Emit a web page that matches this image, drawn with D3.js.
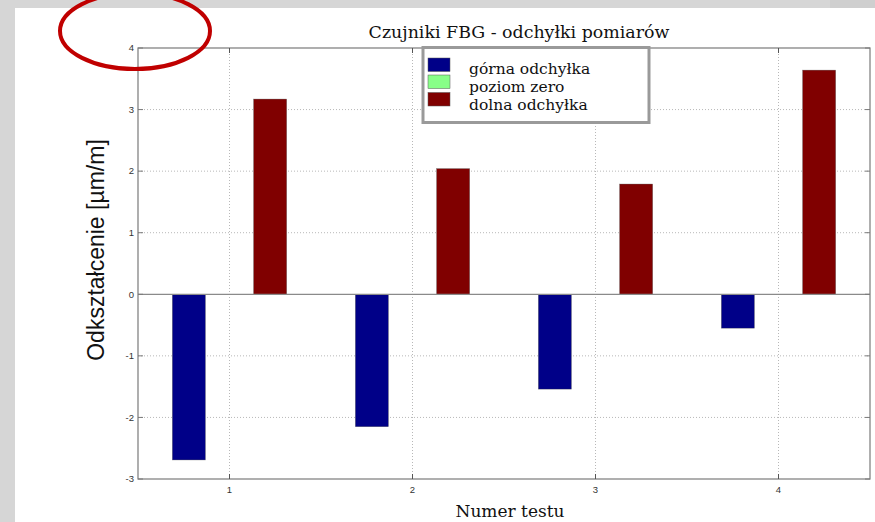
<!DOCTYPE html>
<html><head><meta charset="utf-8">
<script src="https://cdn.jsdelivr.net/npm/d3@7"></script>
<style>body{margin:0;padding:0;background:#fff}svg{display:block}</style>
</head><body>
<script>
const categories = [1, 2, 3, 4];
const seriesNames = ["górna odchyłka", "poziom zero", "dolna odchyłka"];
const seriesColors = ["#000088", "#88ff88", "#800000"];
const gornaValues = [-2.69, -2.15, -1.54, -0.55];
const zeroValues = [0, 0, 0, 0];
const dolnaValues = [3.17, 2.04, 1.79, 3.64];
const yTicks = [-3, -2, -1, 0, 1, 2, 3, 4];
const xTicks = [1, 2, 3, 4];
const titleText = "Czujniki FBG - odchyłki pomiarów";
const xLabel = "Numer testu";
const yLabel = "Odkształcenie [µm/m]";

const W = 875, H = 522;
const serif = "DejaVu Serif, Cambria, serif";
const sans = "Liberation Sans, Arial, sans-serif";
const svg = d3.select("body").append("svg").attr("width", W).attr("height", H);

// background panels
svg.append("rect").attr("width", W).attr("height", H).attr("fill", "#ffffff");
svg.append("rect").attr("x", 0).attr("y", 0).attr("width", W).attr("height", 8).attr("fill", "#d6d6d6");
svg.append("rect").attr("x", 830).attr("y", 0).attr("width", 45).attr("height", 8).attr("fill", "#cfcfcf");
svg.append("rect").attr("x", 0).attr("y", 0).attr("width", 15).attr("height", H).attr("fill", "#d6d6d6");

const m = {l: 138, t: 48, r: 870, b: 479};
const x = d3.scaleLinear().domain([0.5, 4.5]).range([m.l, m.r]);
const y = d3.scaleLinear().domain([-3, 4]).range([m.b, m.t]);

const g = svg.append("g");

// grid
g.selectAll(".gy").data(yTicks.filter(d => d !== -3 && d !== 4 && d !== 0)).join("line")
  .attr("x1", m.l).attr("x2", m.r).attr("y1", d => y(d)).attr("y2", d => y(d))
  .attr("stroke", "#b8b8b8").attr("stroke-width", 1).attr("stroke-dasharray", "1,2");
g.selectAll(".gx").data(xTicks).join("line")
  .attr("x1", d => x(d)).attr("x2", d => x(d)).attr("y1", m.t).attr("y2", m.b)
  .attr("stroke", "#b8b8b8").attr("stroke-width", 1).attr("stroke-dasharray", "1,2");

// bars
const series = [gornaValues, zeroValues, dolnaValues];
const offsets = [-0.222, 0, 0.222];
const bw = 0.18;
series.forEach((vals, si) => {
  g.selectAll(".bar" + si).data(vals.map((v, i) => ({c: categories[i], v}))).join("rect")
    .attr("x", d => x(d.c + offsets[si] - bw / 2))
    .attr("width", d => x(d.c + offsets[si] + bw / 2) - x(d.c + offsets[si] - bw / 2))
    .attr("y", d => y(Math.max(0, d.v)))
    .attr("height", d => Math.abs(y(d.v) - y(0)))
    .attr("fill", seriesColors[si])
    .attr("stroke", "#333").attr("stroke-opacity", 0.5).attr("stroke-width", 0.6);
});

// zero line
g.append("line").attr("x1", m.l).attr("x2", m.r).attr("y1", y(0)).attr("y2", y(0))
  .attr("stroke", "#8a8a8a").attr("stroke-width", 1.2);

// frame
g.append("rect").attr("x", m.l).attr("y", m.t).attr("width", m.r - m.l).attr("height", m.b - m.t)
  .attr("fill", "none").attr("stroke", "#7a7a7a").attr("stroke-width", 1.2);

// ticks inward
g.selectAll(".tl").data(yTicks).join("line")
  .attr("x1", m.l).attr("x2", m.l + 5).attr("y1", d => y(d)).attr("y2", d => y(d))
  .attr("stroke", "#7a7a7a");
g.selectAll(".tr").data(yTicks).join("line")
  .attr("x1", m.r - 5).attr("x2", m.r).attr("y1", d => y(d)).attr("y2", d => y(d))
  .attr("stroke", "#7a7a7a");
g.selectAll(".tb").data(xTicks).join("line")
  .attr("x1", d => x(d)).attr("x2", d => x(d)).attr("y1", m.b - 5).attr("y2", m.b)
  .attr("stroke", "#555");
g.selectAll(".tt").data(xTicks).join("line")
  .attr("x1", d => x(d)).attr("x2", d => x(d)).attr("y1", m.t).attr("y2", m.t + 5)
  .attr("stroke", "#555");

// tick labels
g.selectAll(".yl").data(yTicks).join("text")
  .attr("x", m.l - 4).attr("y", d => y(d)).attr("dy", "0.35em")
  .attr("text-anchor", "end").attr("font-family", sans)
  .attr("font-size", 9.5).attr("fill", "#333").text(d => d);
g.selectAll(".xl").data(xTicks).join("text")
  .attr("x", d => x(d)).attr("y", m.b + 14)
  .attr("text-anchor", "middle").attr("font-family", sans)
  .attr("font-size", 9.5).attr("fill", "#333").text(d => d);

// title & labels
svg.append("text").attr("x", 519).attr("y", 38).attr("text-anchor", "middle")
  .attr("font-family", serif).attr("font-size", 17.4)
  .attr("fill", "#111").text(titleText);
svg.append("text").attr("x", 510).attr("y", 517).attr("text-anchor", "middle")
  .attr("font-family", serif).attr("font-size", 17)
  .attr("fill", "#111").text(xLabel);
svg.append("text").attr("transform", "translate(104,250) rotate(-90)").attr("text-anchor", "middle")
  .attr("font-family", sans).attr("font-size", 23)
  .attr("fill", "#111").text(yLabel);

// legend
const lg = svg.append("g");
lg.append("rect").attr("x", 423).attr("y", 47.5).attr("width", 226).attr("height", 75)
  .attr("fill", "#fff").attr("stroke", "#9a9a9a").attr("stroke-width", 3);
const swY = [58, 75, 92.5];
const txY = [73.5, 91.5, 109.5];
seriesNames.forEach((n, i) => {
  lg.append("rect").attr("x", 428).attr("y", swY[i]).attr("width", 22).attr("height", 13.5)
    .attr("fill", seriesColors[i]).attr("stroke", "#555").attr("stroke-width", 0.5);
  lg.append("text").attr("x", 469).attr("y", txY[i])
    .attr("font-family", serif).attr("font-size", 15.5)
    .attr("fill", "#111").text(n);
});

// red ellipse annotation
svg.append("ellipse").attr("cx", 135).attr("cy", 31).attr("rx", 75).attr("ry", 38)
  .attr("fill", "none").attr("stroke", "#c00000").attr("stroke-width", 4);
</script>
</body></html>
